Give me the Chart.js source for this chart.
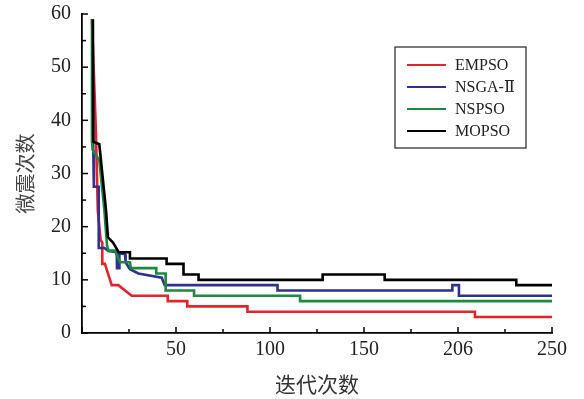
<!DOCTYPE html>
<html>
<head>
<meta charset="utf-8">
<script src="https://cdn.jsdelivr.net/npm/chart.js@4/dist/chart.umd.min.js"></script>
<style>
  html, body { margin: 0; padding: 0; background: #fff; }
  #wrap { width: 584px; height: 399px; position: relative; }
</style>
</head>
<body>
<div id="wrap"><canvas id="c" width="584" height="399"></canvas></div>
<script>
// ---- data ----
const seriesNames = ['EMPSO', 'NSGA-Ⅱ', 'NSPSO', 'MOPSO'];

const empsoX = [5.3, 7.4, 8.4, 9.9, 10.8, 10.8, 12.2, 15.8, 19.3, 26.4, 45.6, 45.6, 56, 56, 88, 88, 209, 209, 250];
const empsoY = [59, 38, 23, 17.5, 17, 13, 13, 9, 9, 7, 7, 6, 6, 5, 5, 4, 4, 3, 3];

const nsgaX = [5.5, 6, 6.3, 8.9, 8.9, 12, 14, 18.5, 18.6, 19.8, 19.9, 22.9, 23.2, 25.5, 30, 42.4, 44, 104, 104, 197, 197, 200.5, 200.5, 250];
const nsgaY = [59, 34.4, 27.5, 27.5, 16, 16, 15.4, 15.2, 12.2, 12.2, 15, 14.8, 13.3, 12, 11.2, 10.4, 9, 9, 8, 8, 9, 9, 7, 7];

const nspsoX = [5.3, 5.3, 5.7, 9.2, 11.9, 13.3, 14, 17.5, 20.2, 25.5, 26, 39.5, 39.5, 44.5, 44.5, 59.6, 59.6, 116, 116, 250];
const nspsoY = [59, 36, 34.4, 32.5, 23, 16.5, 15.5, 15.5, 13.3, 13.3, 12.2, 12.2, 11.2, 11.2, 8, 8, 7, 7, 6, 6];

const mopsoX = [5.8, 6, 9.2, 12.8, 13.8, 16.5, 19.5, 25.5, 25.5, 45, 45, 54, 54, 62, 62, 128, 128, 161, 161, 231, 231, 250];
const mopsoY = [59, 36, 35.5, 23, 18, 17, 15.2, 15.2, 14, 14, 13, 13, 11, 11, 10, 10, 11, 11, 10, 10, 9, 9];

const xTickValues = [50, 100, 150, 200, 250];
const xTickLabels = ['50', '100', '150', '206', '250'];
const yTickLabels = ['0', '10', '20', '30', '40', '50', '60'];

const colors = ['#e3242b', '#2e3192', '#1b8a3f', '#000000'];

function pts(xs, ys) { return xs.map((x, i) => ({ x: x, y: ys[i] })); }

const allX = [empsoX, nsgaX, nspsoX, mopsoX];
const allY = [empsoY, nsgaY, nspsoY, mopsoY];

const datasets = seriesNames.map((n, i) => ({
  label: n,
  data: pts(allX[i], allY[i]),
  borderColor: colors[i],
  backgroundColor: colors[i],
  borderWidth: 2.6,
  pointRadius: 0,
  tension: 0,
  fill: false,
  order: 3 - i,
  borderJoinStyle: 'miter'
}));

const serif = "'Liberation Serif', 'DejaVu Serif', serif";
const cjk = "'Noto Sans CJK SC', sans-serif";

const innerTicks = {
  id: 'innerTicks',
  afterDraw(chart) {
    const ctx = chart.ctx;
    const xs = chart.scales.x, ys = chart.scales.y;
    const a = chart.chartArea;
    ctx.save();
    ctx.strokeStyle = '#000';
    ctx.lineWidth = 1.5;
    for (let v = 0; v <= 60; v += 5) {
      const p = ys.getPixelForValue(v);
      const len = (v % 10 === 0) ? 6 : 4;
      ctx.beginPath(); ctx.moveTo(a.left, p); ctx.lineTo(a.left + len, p); ctx.stroke();
    }
    for (let v = 0; v <= 250; v += 25) {
      const p = xs.getPixelForValue(v);
      const len = (v % 50 === 0) ? 6 : 4;
      ctx.beginPath(); ctx.moveTo(p, a.bottom); ctx.lineTo(p, a.bottom - len); ctx.stroke();
    }
    // legend box
    const bx = 395, by = 47, bw = 131, bh = 101;
    ctx.fillStyle = '#fff';
    ctx.fillRect(bx, by, bw, bh);
    ctx.lineWidth = 1.2;
    ctx.strokeStyle = '#222';
    ctx.strokeRect(bx, by, bw, bh);
    ctx.font = "16px " + serif;
    ctx.textBaseline = 'middle';
    ctx.textAlign = 'left';
    chart.data.datasets.forEach((d, i) => {
      const y = 65 + i * 22;
      ctx.strokeStyle = d.borderColor;
      ctx.lineWidth = 2.2;
      ctx.beginPath(); ctx.moveTo(407, y); ctx.lineTo(446, y); ctx.stroke();
      ctx.fillStyle = '#222';
      ctx.fillText(d.label, 455, y + 1);
    });
    ctx.restore();
  }
};

new Chart(document.getElementById('c'), {
  type: 'line',
  data: { datasets: datasets },
  options: {
    responsive: false,
    animation: false,
    layout: { padding: { left: 0, right: 32, top: 14, bottom: 0 } },
    plugins: { legend: { display: false }, tooltip: { enabled: false } },
    scales: {
      x: {
        type: 'linear', min: 0, max: 250,
        grid: { display: false, drawTicks: false },
        border: { display: true, color: '#000', width: 1.8 },
        afterBuildTicks: s => { s.ticks = [0].concat(xTickValues).map(v => ({ value: v })); },
        ticks: {
          color: '#222', padding: 5, maxRotation: 0, autoSkip: false,
          font: { family: serif, size: 20 },
          callback: v => { const k = xTickValues.indexOf(v); return k >= 0 ? xTickLabels[k] : ''; }
        },
        title: { display: true, text: '迭代次数', color: '#333', font: { family: cjk, size: 21 }, padding: { top: 0, bottom: 2 } },
        afterFit: s => { s.height = 66; }
      },
      y: {
        type: 'linear', min: 0, max: 60,
        grid: { display: false, drawTicks: false },
        border: { display: true, color: '#000', width: 1.8 },
        ticks: {
          stepSize: 10, color: '#222', padding: 11,
          font: { family: serif, size: 20 },
          callback: v => { const k = v / 10; return yTickLabels[k] !== undefined ? yTickLabels[k] : ''; }
        },
        title: { display: true, text: '微震次数', color: '#444', font: { family: cjk, size: 20 }, padding: { top: 13, bottom: 0 } },
        afterFit: s => { s.width = 82; s.paddingTop = 0; s.paddingBottom = 0; }
      }
    }
  },
  plugins: [innerTicks]
});
</script>
</body>
</html>
